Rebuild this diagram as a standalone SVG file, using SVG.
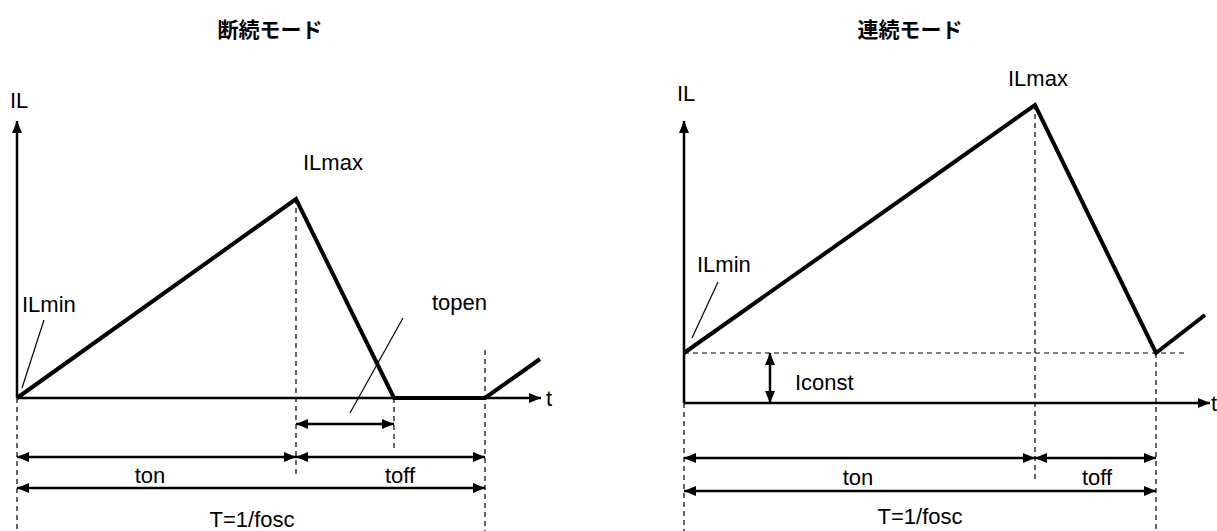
<svg xmlns="http://www.w3.org/2000/svg" width="1217" height="531" viewBox="0 0 1217 531">
<style>
text{font-family:"Liberation Sans",Arial,sans-serif;font-size:22px;fill:#000}
.title{font-family:"Liberation Sans","Noto Sans CJK JP",sans-serif;font-weight:bold;font-size:21px}
.axis{stroke:#000;stroke-width:2.5;fill:none}
.wave{stroke:#000;stroke-width:4;fill:none;stroke-linejoin:miter}
.dim{stroke:#000;stroke-width:2.5;fill:none}
.dash{stroke:#000;stroke-width:1.2;stroke-dasharray:5,4;fill:none}
.lead{stroke:#000;stroke-width:1.2;fill:none}
</style>
<defs>
<marker id="ah" viewBox="0 0 12 10" refX="12" refY="5" markerWidth="12" markerHeight="10" markerUnits="userSpaceOnUse" orient="auto-start-reverse">
<path d="M0,0 L12,5 L0,10 Z" fill="#000"/>
</marker>
</defs>
<g id="titles">
<text class="title" x="270" y="37" text-anchor="middle">断続モード</text>
<text class="title" x="910" y="37" text-anchor="middle">連続モード</text>
</g>
<g id="left-chart">
<g id="left-axes">
<line class="axis" x1="17" y1="398" x2="17" y2="121" marker-end="url(#ah)"/>
<line class="axis" x1="17" y1="398" x2="541" y2="398" marker-end="url(#ah)"/>
<text x="10" y="108">IL</text>
<text x="546" y="406">t</text>
</g>
<g id="left-wave">
<polyline class="wave" points="17,398 296,199 394,398 485,398 540,359"/>
</g>
<g id="left-labels">
<text x="303" y="170">ILmax</text>
<text x="22" y="312">ILmin</text>
<line class="lead" x1="44" y1="320" x2="22" y2="388"/>
<text x="432" y="310">topen</text>
<line class="lead" x1="403" y1="318" x2="350" y2="413"/>
</g>
</g>
<g id="right-chart">
<g id="right-axes">
<line class="axis" x1="684" y1="403" x2="684" y2="121" marker-end="url(#ah)"/>
<line class="axis" x1="684" y1="403" x2="1210" y2="403" marker-end="url(#ah)"/>
<text x="677" y="101">IL</text>
<text x="1211" y="411">t</text>
</g>
<g id="right-wave">
<polyline class="wave" points="684,353 1035,105 1156,353 1205,315"/>
</g>
<g id="right-labels">
<text x="1008" y="86">ILmax</text>
<text x="697" y="272">ILmin</text>
<line class="lead" x1="718" y1="282" x2="692" y2="338"/>
<text x="795" y="390">Iconst</text>
</g>
</g>
<g id="connectors">
<line class="dash" x1="17" y1="398" x2="17" y2="531"/>
<line class="dash" x1="296" y1="199" x2="296" y2="478"/>
<line class="dash" x1="394" y1="398" x2="394" y2="449"/>
<line class="dash" x1="485" y1="350" x2="485" y2="531"/>
<line class="dim" x1="296" y1="424" x2="394" y2="424" marker-start="url(#ah)" marker-end="url(#ah)"/>
<line class="dim" x1="17" y1="457" x2="296" y2="457" marker-start="url(#ah)" marker-end="url(#ah)"/>
<line class="dim" x1="296" y1="457" x2="485" y2="457" marker-start="url(#ah)" marker-end="url(#ah)"/>
<line class="dim" x1="17" y1="488" x2="485" y2="488" marker-start="url(#ah)" marker-end="url(#ah)"/>
<line class="dash" x1="684" y1="353" x2="1185" y2="353"/>
<line class="dash" x1="684" y1="403" x2="684" y2="531"/>
<line class="dash" x1="1035" y1="105" x2="1035" y2="481"/>
<line class="dash" x1="1156" y1="353" x2="1156" y2="531"/>
<line class="dim" x1="770" y1="353" x2="770" y2="403" marker-start="url(#ah)" marker-end="url(#ah)"/>
<line class="dim" x1="684" y1="458" x2="1035" y2="458" marker-start="url(#ah)" marker-end="url(#ah)"/>
<line class="dim" x1="1035" y1="458" x2="1156" y2="458" marker-start="url(#ah)" marker-end="url(#ah)"/>
<line class="dim" x1="684" y1="491" x2="1156" y2="491" marker-start="url(#ah)" marker-end="url(#ah)"/>
</g>
<g id="dim-labels">
<text x="150" y="483" text-anchor="middle">ton</text>
<text x="400" y="483" text-anchor="middle">toff</text>
<text x="252" y="527" text-anchor="middle">T=1/fosc</text>
<text x="858" y="485" text-anchor="middle">ton</text>
<text x="1097" y="485" text-anchor="middle">toff</text>
<text x="920" y="524" text-anchor="middle">T=1/fosc</text>
</g>
</svg>
